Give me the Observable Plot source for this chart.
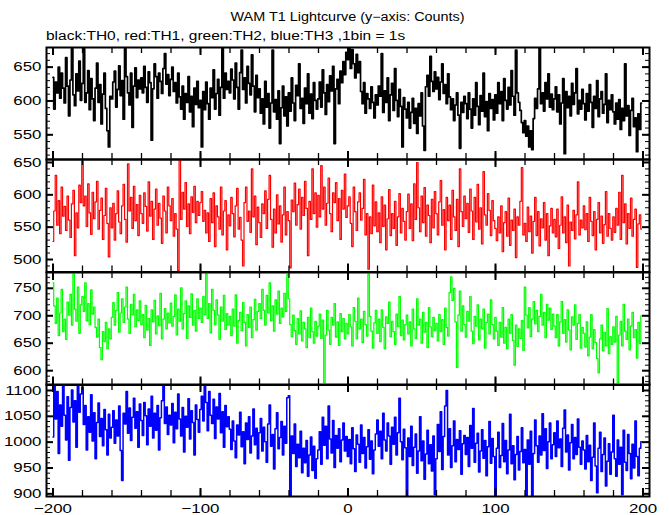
<!DOCTYPE html>
<html>
<head>
<meta charset="utf-8">
<script src="https://cdn.jsdelivr.net/npm/d3@7"></script>
<script src="https://cdn.jsdelivr.net/npm/@observablehq/plot@0.6"></script>
<style>
  html, body { margin: 0; padding: 0; background: #fff; }
  #wrap { position: relative; width: 669px; height: 515px; overflow: hidden; background: #fff;
          font-family: "Liberation Sans", Arial, Helvetica, sans-serif; color: #000; }
  #title { position: absolute; top: 11px; left: 13px; width: 669px; text-align: center; font-size: 12px; line-height: 12px; }
  #title span { display: inline-block; transform: scaleX(1.2); transform-origin: center; white-space: nowrap; }
  #sub { position: absolute; top: 30px; left: 46px; font-size: 12px; line-height: 12px; white-space: nowrap; }
  #sub span { display: inline-block; transform: scaleX(1.29); transform-origin: left; }
</style>
</head>
<body>
<div id="wrap">
  <div id="title"><span>WAM T1 Lightcurve (y−axis: Counts)</span></div>
  <div id="sub"><span>black:TH0, red:TH1, green:TH2, blue:TH3 ,1bin = 1s</span></div>
</div>
<script>
// time bins (1 bin = 1 s)
const time = d3.range(-200, 200);

// TH0 (black)
const th0 = [
635,588,628,612,650,604,641,619,597,664,622,578,631,677,609,593,640,615,659,601,
626,677,598,612,645,587,633,603,571,619,656,598,624,566,610,641,589,556,532,607,
603,628,644,591,617,652,608,630,573,677,636,612,594,641,561,622,649,605,631,618,
634,612,651,620,598,643,627,542,618,655,636,604,641,629,611,648,670,625,639,608,
632,650,614,627,597,641,606,588,622,573,611,598,636,584,607,562,619,595,629,590,
601,532,614,587,628,596,573,619,605,646,588,611,632,579,620,678,604,641,617,629,
612,647,631,603,656,620,588,642,675,617,634,597,651,626,609,668,622,584,638,605,
618,582,603,566,629,591,611,560,597,675,584,602,573,615,537,590,622,578,606,563,
612,585,634,597,571,623,608,655,589,604,567,619,596,640,582,610,574,627,601,588,
603,628,591,646,612,580,624,599,637,615,651,537,618,632,596,644,627,658,639,672,
661,678,648,676,655,634,669,642,658,614,596,627,582,611,603,589,621,598,575,609,
594,622,607,670,583,615,598,634,571,609,626,586,648,601,577,617,592,532,605,588,
575,598,560,583,604,567,589,552,596,578,612,563,527,621,638,607,666,629,614,643,
618,635,602,628,655,611,624,596,640,606,587,603,571,594,612,579,530,598,583,607,
596,574,612,588,560,603,579,627,592,565,608,585,641,577,599,556,611,589,602,572,
609,582,627,596,614,571,633,601,588,620,594,645,607,579,675,612,598,586,568,553,
571,548,563,532,556,528,574,604,589,618,678,596,612,585,627,603,640,591,610,587,
603,621,584,609,566,597,633,522,614,590,607,578,626,595,612,648,581,601,588,617,
596,572,611,585,624,598,561,607,589,630,577,603,614,582,595,640,568,601,587,609,
584,566,597,573,602,558,589,571,655,578,593,549,586,604,562,575,525,581,558,597
];

// TH1 (red)
const th1 = [
528,575,630,553,591,540,612,567,582,545,598,561,534,586,607,506,572,549,615,588,
654,583,598,551,617,572,539,604,563,589,621,547,576,595,531,568,610,556,504,580,
549,587,530,571,606,558,540,583,616,562,527,648,575,596,548,613,560,585,537,599,
571,556,603,582,544,620,567,590,531,578,609,553,587,564,525,598,575,541,612,583,
560,594,536,571,547,483,654,562,604,578,619,551,586,540,597,573,613,557,590,568,
588,605,559,576,541,572,528,594,557,603,520,583,566,547,612,538,575,591,515,569,
552,596,571,535,583,610,547,565,530,490,588,612,559,575,542,640,566,598,523,581,
557,534,586,571,606,548,593,630,562,519,578,541,600,555,583,527,569,612,538,574,
560,487,592,574,618,553,585,609,547,596,568,621,579,506,590,562,640,571,603,550,
599,566,645,578,612,553,587,626,571,543,603,588,619,560,594,531,607,578,632,565,
583,597,556,520,612,574,545,589,603,561,579,624,538,571,485,566,540,615,552,589,
543,572,526,597,551,584,515,563,608,537,571,548,590,522,566,602,541,579,559,530,
574,601,548,586,529,617,562,650,580,543,598,557,611,536,584,568,526,593,549,605,
571,538,589,622,553,577,515,596,560,584,531,607,566,545,593,520,640,574,551,598,
563,587,542,609,575,531,596,558,616,547,580,524,636,569,553,602,576,537,591,560,
548,529,566,541,583,512,557,574,536,595,522,561,545,578,503,566,553,590,642,538,
556,528,581,543,567,510,559,596,537,574,521,563,549,588,530,571,506,552,579,541,
562,535,578,517,553,597,541,566,526,584,490,558,545,576,532,569,620,538,561,549,
583,546,571,528,596,559,537,574,515,562,588,541,567,525,554,605,536,571,548,530,
566,542,579,553,604,531,630,557,586,524,571,548,595,536,562,578,488,555,569,547
];

// TH2 (green)
const th2 = [
760,718,686,732,664,705,748,671,694,657,725,701,739,683,776,712,690,752,668,720,
735,708,760,691,722,684,747,703,716,679,661,694,642,620,671,653,688,640,676,658,
697,724,683,710,742,670,705,731,688,716,752,694,668,721,702,739,680,711,691,727,
684,702,660,719,674,695,646,711,689,728,667,700,682,741,658,694,713,676,705,687,
723,681,699,738,665,712,690,751,676,704,727,659,718,697,740,683,710,672,731,695,
714,688,735,702,776,695,722,669,748,710,684,729,701,657,716,690,737,675,704,683,
699,664,712,681,738,650,691,706,673,724,688,645,702,679,716,660,693,730,674,708,
722,695,748,710,683,737,705,760,691,718,672,729,703,745,686,714,698,741,708,775,
731,684,662,701,673,648,695,667,709,654,688,676,642,697,660,714,671,650,690,663,
681,703,659,692,578,665,710,674,648,697,683,722,661,689,646,704,671,695,658,686,
667,702,680,645,715,690,658,732,676,694,651,708,684,663,776,699,672,641,687,710,
668,694,653,711,679,640,698,686,725,662,690,671,648,703,680,735,664,692,656,684,
701,667,689,645,712,676,659,731,683,694,650,706,670,688,642,715,680,662,697,673,
686,654,702,671,693,648,714,679,663,742,771,728,750,689,606,701,745,672,718,684,
661,708,690,735,672,649,699,681,720,656,694,676,712,641,688,703,667,729,684,658,
697,672,646,688,661,715,650,679,640,694,668,702,655,610,683,644,676,659,691,637,
752,701,678,715,662,694,726,685,710,671,699,739,683,706,660,721,692,714,675,703,
681,660,702,645,689,726,668,693,652,711,674,638,698,683,720,657,686,702,641,679,
668,643,689,627,661,702,640,675,651,622,596,658,683,636,670,645,713,631,662,648,
680,652,699,578,665,690,645,721,672,657,694,638,681,706,660,675,623,688,649,700
];

// TH3 (blue)
const th3 = [
1010,1111,1045,1098,978,1072,1031,1110,1052,1004,1088,965,1067,1101,1039,1080,990,1111,1058,1093,
1107,1034,1071,985,1049,1019,1092,1002,1057,968,1038,1076,1011,1046,993,1063,1024,975,1054,1008,
1029,1061,998,1043,1012,1070,984,926,1056,1035,1098,1017,1066,1003,1048,1085,1027,1059,990,1074,
1042,1013,1077,1051,995,1064,1031,1089,1008,1056,1023,1071,985,1047,1080,1110,1036,1068,1015,1052,
1033,1075,999,1058,1026,1093,1045,1012,1067,981,1050,1029,1084,1006,1061,1038,975,1072,1044,1019,
1063,1089,1041,1111,1077,1022,1098,1052,1036,1083,1007,1068,1045,1094,1018,1059,990,1071,1030,1049,
1025,986,1041,1002,970,1033,1014,1058,991,1020,958,1037,1005,1049,979,1012,1064,995,1027,968,
1018,1046,983,1029,1001,961,1035,1072,992,1015,948,1026,1057,987,1009,1040,975,1031,998,1086,
1090,895,1012,978,1035,953,996,970,1021,941,988,960,1003,934,975,1010,945,992,930,968,
985,1020,957,1048,994,1031,968,1070,1006,979,1042,951,1013,988,1026,962,1004,1037,983,1011,
972,1005,958,1028,987,943,1014,996,961,1033,978,1009,950,991,1024,967,1002,939,985,1016,
1043,992,1021,968,1056,1004,983,1037,1012,957,1029,996,1048,975,1018,1085,1001,966,1025,989,
895,1008,972,1031,955,990,1016,940,983,1049,964,1002,928,977,1023,958,995,944,1012,898,
968,1034,982,1059,947,1011,1070,1100,975,1026,951,993,1041,962,1005,986,1022,938,997,1013,
976,1009,953,1032,988,1065,961,998,1017,942,983,1024,969,1003,935,991,1040,959,1007,972,
895,988,1019,951,974,1036,962,1003,939,985,1054,958,993,927,976,1011,946,982,1028,960,
986,895,1004,957,1021,895,978,1043,993,961,1012,975,1055,984,1026,949,1001,1037,968,995,
1018,972,1041,989,1006,953,1027,1062,981,1014,946,999,1034,968,1009,976,1045,990,957,1002,
985,948,1013,962,994,926,971,1037,954,902,988,1019,943,976,1008,915,963,997,938,981,
1052,968,934,1004,957,990,898,1023,961,945,1015,978,929,996,950,1041,972,935,988,1001
];

// axis tick values
const xLabelTicks = [-200, -100, 0, 100, 200];
const xMinorTicks = d3.range(-200, 201, 20);
const yTicks0 = [550, 600, 650];
const yTicks1 = [500, 550, 600, 650];
const yTicks2 = [600, 650, 700, 750];
const yTicks3 = [900, 950, 1000, 1050, 1100];

// layout / style options
const W = 669, ML = 46, MR = 20;
const xDomain = [-204.4, 204.4];
const panels = [
  {values: th0, color: "#000000", lw: 1.7, domain: [513.5, 679], ticks: yTicks0, top: 47, bottom: 159},
  {values: th1, color: "#ff0000", lw: 1.2, domain: [480.7, 654.6], ticks: yTicks1, top: 159, bottom: 271.5},
  {values: th2, color: "#00ff00", lw: 1.2, domain: [573.9, 778.8], ticks: yTicks2, top: 271.5, bottom: 384},
  {values: th3, color: "#0000ff", lw: 1.5, domain: [894.8, 1111.6], ticks: yTicks3, top: 384, bottom: 496}
];

const wrap = document.getElementById("wrap");
const fmt = d => String(d);
panels.forEach((p, i) => {
  const last = i === panels.length - 1;
  const fh = p.bottom - p.top;
  const fw = W - ML - MR;
  const mb = last ? 19 : 0;
  const rows = time.map((t, k) => ({t, v: p.values[k]}));
  const yMinor = d3.range(Math.ceil(p.domain[0] / 10) * 10, p.domain[1], 10);
  const marks = [
    Plot.lineY(rows, {x: "t", y: "v", curve: "step", stroke: p.color, strokeWidth: p.lw, clip: true}),
    Plot.tickY(yMinor, {y: d => d, insetRight: fw - 4, stroke: "#000", strokeWidth: 1}),
    Plot.tickY(yMinor, {y: d => d, insetLeft: fw - 4, stroke: "#000", strokeWidth: 1}),
    Plot.tickY(p.ticks, {y: d => d, insetRight: fw - 7, stroke: "#000", strokeWidth: 2}),
    Plot.tickY(p.ticks, {y: d => d, insetLeft: fw - 7, stroke: "#000", strokeWidth: 2}),
    Plot.tickX(xMinorTicks, {x: d => d, insetBottom: fh - 6, stroke: "#000", strokeWidth: 1.3}),
    Plot.tickX(xMinorTicks, {x: d => d, insetTop: fh - 6, stroke: "#000", strokeWidth: 1.3}),
    Plot.tickX(xLabelTicks, {x: d => d, insetBottom: fh - 8, stroke: "#000", strokeWidth: 2}),
    Plot.tickX(xLabelTicks, {x: d => d, insetTop: fh - 8, stroke: "#000", strokeWidth: 2}),
    Plot.frame({stroke: "#000", strokeWidth: 2}),
    Plot.axisY(p.ticks, {anchor: "left", tickSize: 0, tickPadding: 5, fontSize: 13, label: null, tickFormat: fmt})
  ];
  if (last) marks.push(Plot.axisX(xLabelTicks, {anchor: "bottom", tickSize: 0, tickPadding: 7, fontSize: 13, label: null}));
  const svg = Plot.plot({
    width: W,
    height: fh + mb,
    marginLeft: ML,
    marginRight: MR,
    marginTop: 0,
    marginBottom: mb,
    x: last ? {domain: xDomain, label: null} : {domain: xDomain, label: null, axis: null},
    y: {domain: p.domain, label: null},
    style: {
      position: "absolute", top: p.top + "px", left: "0px", overflow: "visible",
      background: "transparent", fontFamily: '"Liberation Sans", Arial, Helvetica, sans-serif', color: "#000"
    },
    marks
  });
  svg.querySelectorAll("text").forEach(t => {
    const tr = t.getAttribute("transform");
    if (tr) t.setAttribute("transform", tr + " scale(1.3,1)");
    else {
      const x = +t.getAttribute("x") || 0;
      t.removeAttribute("x");
      t.setAttribute("transform", `translate(${x},0) scale(1.3,1)`);
    }
  });
  wrap.appendChild(svg);
});
</script>
</body>
</html>
